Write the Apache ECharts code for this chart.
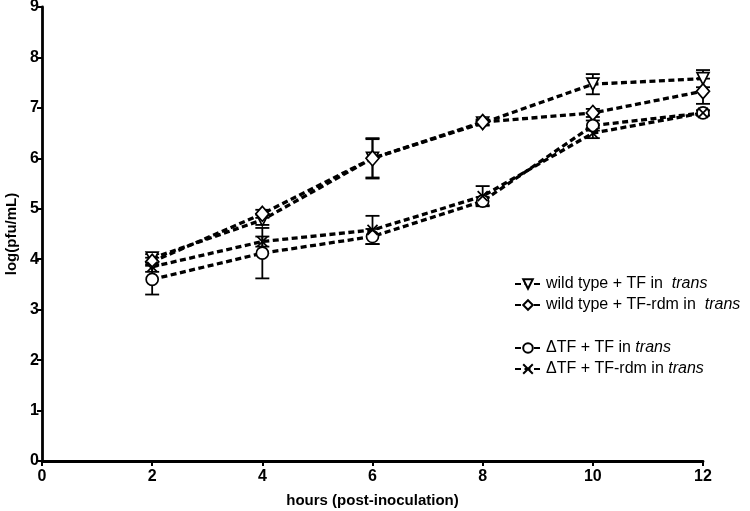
<!DOCTYPE html>
<html><head><meta charset="utf-8">
<script src="https://cdn.jsdelivr.net/npm/echarts@6/dist/echarts.min.js"></script>
<style>html,body{margin:0;padding:0;background:#fff}#c{width:750px;height:511px}</style>
</head><body><div id="c"></div>
<script>
const hours = [2, 4, 6, 8, 10, 12];
const wtTF = [4.02, 4.78, 6.0, 6.7, 7.47, 7.58];
const wtRdm = [3.95, 4.9, 6.0, 6.72, 6.9, 7.33];
const dtfTF = [3.6, 4.12, 4.45, 5.15, 6.65, 6.9];
const dtfRdm = [3.85, 4.35, 4.58, 5.25, 6.5, 6.9];
const wtTFErr = [0.08, 0.1, 0.38, 0.05, 0.2, 0.17];
const wtRdmErr = [0.08, 0.08, 0.4, 0.05, 0.08, 0.25];
const dtfTFErr = [0.3, 0.5, 0.15, 0.08, 0.1, 0.05];
const dtfRdmErr = [0.1, 0.1, 0.28, 0.2, 0.1, 0.05];
const labels = {
  wtTF: '{n|wild type + TF in  }{i|trans}',
  wtRdm: '{n|wild type + TF-rdm in  }{i|trans}',
  dtfTF: '{n|\u0394TF + TF in }{i|trans}',
  dtfRdm: '{n|\u0394TF + TF-rdm in }{i|trans}'
};
const FONT = "'Liberation Sans', Arial, sans-serif";
const chart = echarts.init(document.getElementById('c'));

function pts(arr) { return hours.map((h, i) => [h, arr[i]]); }
function errData(arr, err) { return hours.map((h, i) => [h, arr[i] - err[i], arr[i] + err[i]]); }
function errSeries(arr, err) {
  return {
    type: 'custom', silent: true, z: 1,
    data: errData(arr, err),
    renderItem: function (params, api) {
      const x = api.value(0);
      const lo = api.coord([x, api.value(1)]);
      const hi = api.coord([x, api.value(2)]);
      const w = 7;
      const st = { stroke: '#000', lineWidth: 1.8 };
      return { type: 'group', children: [
        { type: 'line', shape: { x1: lo[0], y1: lo[1], x2: hi[0], y2: hi[1] }, style: st },
        { type: 'line', shape: { x1: lo[0] - w, y1: lo[1], x2: lo[0] + w, y2: lo[1] }, style: st },
        { type: 'line', shape: { x1: hi[0] - w, y1: hi[1], x2: hi[0] + w, y2: hi[1] }, style: st }
      ]};
    }
  };
}
function lineSeries(name, arr, symbol, size, rot) {
  return {
    name: name, type: 'line', data: pts(arr), z: 3,
    symbol: symbol, symbolSize: size, symbolRotate: rot || 0, showAllSymbol: true,
    lineStyle: { color: '#000', width: 3.3, type: [6, 3.5] },
    itemStyle: { color: '#fff', borderColor: '#000', borderWidth: 1.7 },
    emphasis: { disabled: true }
  };
}
const xPath = 'path://M0,0L10,10M10,0L0,10';
const legendCommon = {
  orient: 'vertical', left: 509, itemWidth: 26, itemHeight: 12, itemGap: 5,
  formatter: n => labels[n],
  textStyle: { fontFamily: FONT, fontSize: 16, color: '#000',
    rich: { n: { fontFamily: FONT, fontSize: 16, color: '#000' },
            i: { fontFamily: FONT, fontSize: 16, color: '#000', fontStyle: 'italic' } } }
};
chart.setOption({
  animation: false,
  grid: { left: 42, right: 47, top: 7, bottom: 50, outerBoundsMode: 'none', containLabel: false },
  legend: [
    Object.assign({ top: 271, data: ['wtTF', 'wtRdm'] }, legendCommon),
    Object.assign({ top: 335, data: ['dtfTF', 'dtfRdm'] }, legendCommon)
  ],
  xAxis: {
    type: 'value', min: 0, max: 12, interval: 2,
    name: 'hours (post-inoculation)', nameLocation: 'middle', nameGap: 32,
    nameTextStyle: { fontFamily: FONT, fontSize: 15, fontWeight: 'bold', color: '#000' },
    axisLine: { lineStyle: { color: '#000', width: 2.8 } },
    axisTick: { show: true, length: 5, lineStyle: { color: '#000', width: 2 } },
    axisLabel: { fontFamily: FONT, fontSize: 16, fontWeight: 'bold', color: '#000', margin: 8 },
    splitLine: { show: false }
  },
  yAxis: {
    type: 'value', min: 0, max: 9, interval: 1,
    name: 'log(pfu/mL)', nameLocation: 'middle', nameGap: 21, nameRotate: 90,
    nameTextStyle: { fontFamily: FONT, fontSize: 15, fontWeight: 'bold', color: '#000' },
    axisLine: { lineStyle: { color: '#000', width: 2.8 } },
    axisTick: { show: true, length: 5, lineStyle: { color: '#000', width: 2 } },
    axisLabel: { fontFamily: FONT, fontSize: 16, fontWeight: 'bold', color: '#000', margin: 3 },
    splitLine: { show: false }
  },
  series: [
    errSeries(wtTF, wtTFErr), errSeries(wtRdm, wtRdmErr),
    errSeries(dtfTF, dtfTFErr), errSeries(dtfRdm, dtfRdmErr),
    lineSeries('wtTF', wtTF, 'triangle', 12, 180),
    lineSeries('wtRdm', wtRdm, 'diamond', [13, 15]),
    lineSeries('dtfTF', dtfTF, 'circle', 12),
    lineSeries('dtfRdm', dtfRdm, xPath, 10)
  ]
});
</script></body></html>
